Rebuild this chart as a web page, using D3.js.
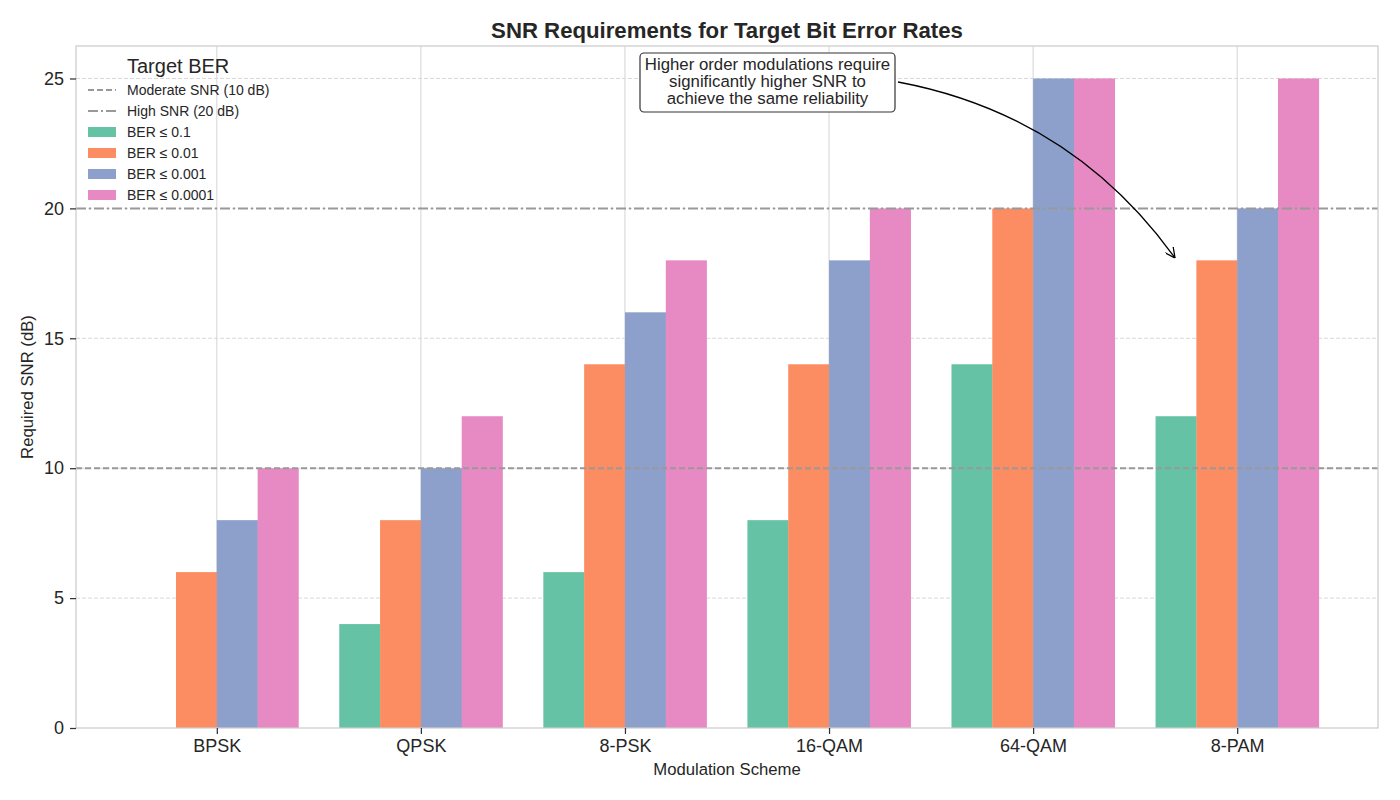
<!DOCTYPE html>
<html>
<head>
<meta charset="utf-8">
<script src="https://cdn.jsdelivr.net/npm/d3@7"></script>
<style>
  body { margin: 0; background: #fff; }
  svg text { font-family: "Liberation Sans", Arial, sans-serif; fill: #262626; }
</style>
</head>
<body>
<div id="chart"></div>
<script>
// data
const schemes = ["BPSK", "QPSK", "8-PSK", "16-QAM", "64-QAM", "8-PAM"];
const berLabels = ["BER \u2264 0.1", "BER \u2264 0.01", "BER \u2264 0.001", "BER \u2264 0.0001"];
const ber1 = [0, 4, 6, 8, 14, 12];
const ber2 = [6, 8, 14, 14, 20, 18];
const ber3 = [8, 10, 16, 18, 25, 20];
const ber4 = [10, 12, 18, 20, 25, 25];
const series = [ber1, ber2, ber3, ber4];
const colors = ["#66c2a5", "#fc8d62", "#8da0cb", "#e78ac3"];
const yTicks = [0, 5, 10, 15, 20, 25];
const refLines = [
  {value: 10, label: "Moderate SNR (10 dB)", dash: "6,3"},
  {value: 20, label: "High SNR (20 dB)", dash: "10,3,2,3"}
];

const width = 1400, height = 800;
const margin = {top: 46, left: 76, right: 22, bottom: 72};

const svg = d3.select("#chart").append("svg")
  .attr("width", width).attr("height", height);

/* SCALES */
const x = d3.scaleLinear()
  .domain([-0.69, schemes.length - 1 + 0.69])
  .range([margin.left, width - margin.right]);
const y = d3.scaleLinear()
  .domain([0, 26.25])
  .range([height - margin.bottom, margin.top]);
const barW = x(0.2) - x(0);

/* GRID */
svg.append("g").selectAll("line")
  .data(schemes.map((d, i) => i))
  .enter().append("line")
  .attr("x1", d => x(d)).attr("x2", d => x(d))
  .attr("y1", margin.top).attr("y2", height - margin.bottom)
  .attr("stroke", "#d4d4d4").attr("stroke-width", 1);

svg.append("g").selectAll("line")
  .data(yTicks.filter(d => d > 0))
  .enter().append("line")
  .attr("x1", margin.left).attr("x2", width - margin.right)
  .attr("y1", d => y(d)).attr("y2", d => y(d))
  .attr("stroke", "#d8d8d8").attr("stroke-width", 1)
  .attr("stroke-dasharray", "4,2");

/* BARS */
series.forEach((vals, s) => {
  svg.append("g").selectAll("rect")
    .data(vals)
    .enter().append("rect")
    .attr("x", (d, i) => x(i + (s - 2) * 0.2))
    .attr("y", d => y(d))
    .attr("width", barW + 0.3)
    .attr("height", d => y(0) - y(d))
    .attr("fill", colors[s]);
});

/* REFERENCE LINES */
refLines.forEach(r => {
  svg.append("line")
    .attr("x1", margin.left).attr("x2", width - margin.right)
    .attr("y1", y(r.value)).attr("y2", y(r.value))
    .attr("stroke", "#999999").attr("stroke-width", 2)
    .attr("stroke-dasharray", r.dash);
});

/* FRAME */
svg.append("rect")
  .attr("x", margin.left).attr("y", margin.top)
  .attr("width", width - margin.left - margin.right)
  .attr("height", height - margin.top - margin.bottom)
  .attr("fill", "none").attr("stroke", "#cccccc").attr("stroke-width", 1.25);

/* AXES */
const xAxis = svg.append("g")
  .attr("transform", `translate(0,${height - margin.bottom})`)
  .call(d3.axisBottom(x).tickValues(schemes.map((d, i) => i))
    .tickFormat(i => schemes[i]).tickSize(6).tickPadding(5));
const yAxis = svg.append("g")
  .attr("transform", `translate(${margin.left},0)`)
  .call(d3.axisLeft(y).tickValues(yTicks).tickSize(6).tickPadding(6));
[xAxis, yAxis].forEach(a => {
  a.select(".domain").remove();
  a.selectAll(".tick line").attr("stroke", "#333").attr("stroke-width", 1.25);
  a.selectAll(".tick text").attr("font-size", 18).style("fill", "#262626");
});

/* LABELS */
svg.append("text")
  .attr("x", (margin.left + width - margin.right) / 2).attr("y", 38)
  .attr("text-anchor", "middle").attr("font-size", 22.2).attr("font-weight", "bold")
  .text("SNR Requirements for Target Bit Error Rates");
svg.append("text")
  .attr("x", (margin.left + width - margin.right) / 2).attr("y", 775)
  .attr("text-anchor", "middle").attr("font-size", 16.7)
  .text("Modulation Scheme");
svg.append("text")
  .attr("transform", "rotate(-90)")
  .attr("x", -(margin.top + height - margin.bottom) / 2).attr("y", 33)
  .attr("text-anchor", "middle").attr("font-size", 16.7)
  .text("Required SNR (dB)");

/* LEGEND */
const legend = svg.append("g");
legend.append("text").attr("x", 127).attr("y", 73).attr("font-size", 20).text("Target BER");
refLines.forEach((r, i) => {
  const cy = 90 + i * 21;
  legend.append("line")
    .attr("x1", 88).attr("x2", 116).attr("y1", cy).attr("y2", cy)
    .attr("stroke", "#999999").attr("stroke-width", 2)
    .attr("stroke-dasharray", r.dash);
  legend.append("text").attr("x", 127).attr("y", cy).attr("dy", "0.35em")
    .attr("font-size", 14).text(r.label);
});
berLabels.forEach((l, i) => {
  const cy = 132 + i * 21;
  legend.append("rect").attr("x", 88).attr("y", cy - 5).attr("width", 28).attr("height", 10)
    .attr("fill", colors[i]);
  legend.append("text").attr("x", 127).attr("y", cy).attr("dy", "0.35em")
    .attr("font-size", 14).text(l);
});

/* ANNOTATION */
const defs = svg.append("defs");
defs.append("marker").attr("id", "arrow")
  .attr("viewBox", "0 0 10 10").attr("refX", 10).attr("refY", 5)
  .attr("markerWidth", 10).attr("markerHeight", 10).attr("markerUnits", "userSpaceOnUse")
  .attr("orient", "auto")
  .append("path").attr("d", "M0,0 L10,5 L0,10").attr("fill", "none")
  .attr("stroke", "#000").attr("stroke-width", 1.3);

const start = [898, 82], end = [1175, 258];
const mx = (start[0] + end[0]) / 2, my = (start[1] + end[1]) / 2;
const dx = end[0] - start[0], dy = end[1] - start[1];
const rad = 0.2;
const ctrl = [mx + rad * dy, my - rad * dx];
svg.append("path")
  .attr("d", `M${start[0]},${start[1]} Q${ctrl[0]},${ctrl[1]} ${end[0]},${end[1]}`)
  .attr("fill", "none").attr("stroke", "#000").attr("stroke-width", 1.3)
  .attr("marker-end", "url(#arrow)");

svg.append("rect")
  .attr("x", 640).attr("y", 53).attr("width", 255).attr("height", 59)
  .attr("rx", 4).attr("fill", "#fff").attr("stroke", "#333").attr("stroke-width", 1.2);
const noteLines = ["Higher order modulations require", "significantly higher SNR to", "achieve the same reliability"];
svg.append("text").attr("x", 767.5).attr("y", 70).attr("text-anchor", "middle")
  .attr("font-size", 16.8)
  .selectAll("tspan").data(noteLines).enter().append("tspan")
  .attr("x", 767.5).attr("dy", (d, i) => i === 0 ? 0 : 17).text(d => d);
</script>
</body>
</html>
